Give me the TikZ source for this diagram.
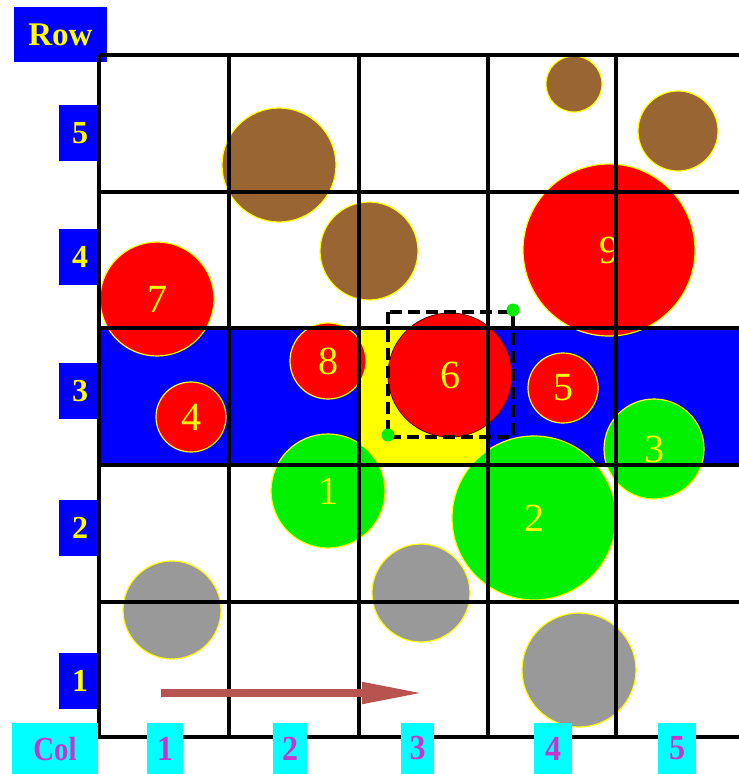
\documentclass[tikz,border=0pt]{standalone}
\usepackage{fontspec}
\setmainfont{Liberation Serif}
\usetikzlibrary{arrows.meta}
\definecolor{bbrown}{RGB}{153,102,51}
\definecolor{ggray}{RGB}{153,153,153}
\definecolor{ggreen}{RGB}{0,240,0}
\definecolor{arrowred}{RGB}{184,84,80}
\definecolor{mmag}{RGB}{204,51,204}
\definecolor{ddred}{RGB}{90,0,0}
\definecolor{ccyan}{RGB}{0,255,255}
\definecolor{bblue}{RGB}{0,0,255}
\definecolor{yyellow}{RGB}{255,255,0}
\definecolor{rred}{RGB}{255,0,0}
\tikzset{
  ball/.style={circle,inner sep=0pt,draw=yyellow,line width=1.2pt,text=yyellow,font=\fontsize{40}{40}\selectfont},
  rowlab/.style={fill=bblue,text=yyellow,inner sep=0pt,minimum width=42pt,minimum height=56pt,font=\bfseries\fontsize{32}{32}\selectfont},
  collab/.style={fill=ccyan,text=mmag,inner sep=0pt,minimum height=51pt,font=\bfseries\fontsize{32}{32}\selectfont},
  gridline/.style={line width=3.3pt,black},
}
\begin{document}
\begin{tikzpicture}[x=1pt,y=-1pt]
\useasboundingbox (0,0) rectangle (739,774);
\fill[white] (0,0) rectangle (739,774);
% band and highlighted cell
\fill[bblue] (99,328) rectangle (739,465);
\fill[yyellow] (359,328) rectangle (488,465);
% brown
\node[ball,fill=bbrown,minimum size=114pt] (b1) at (279,165) {};
\node[ball,fill=bbrown,minimum size=98pt] (b2) at (369,251) {};
\node[ball,fill=bbrown,minimum size=56pt] (b3) at (574,84) {};
\node[ball,fill=bbrown,minimum size=80pt] (b4) at (678,131) {};
% red
\node[ball,fill=rred,minimum size=172pt] (r9) at (609,250) {9};
\node[ball,fill=rred,minimum size=114pt] (r7) at (157,299) {7};
\node[ball,fill=rred,minimum size=76pt] (r8) at (328,361) {8};
\node[ball,fill=rred,minimum size=70pt] (r4) at (191,417) {4};
\node[ball,fill=rred,minimum size=70pt] (r5) at (563,388) {5};
% green
\node[ball,fill=ggreen,minimum size=100pt] (g3) at (654,449) {3};
\node[ball,fill=ggreen,minimum size=114pt] (g1) at (328,491) {1};
\node[ball,fill=ggreen,minimum size=164pt] (g2) at (534,518) {2};
% gray
\node[ball,fill=ggray,minimum size=98pt] (k1) at (172,610) {};
\node[ball,fill=ggray,minimum size=98pt] (k2) at (421,593) {};
\node[ball,fill=ggray,minimum size=114pt] (k3) at (579,670) {};
% red 6
\node[ball,fill=rred,draw=ddred,line width=0.8pt,minimum size=124pt] (r6) at (450,375) {6};
% labels (under grid)
\node[fill=bblue,text=yyellow,inner sep=0pt,minimum width=93pt,minimum height=55pt,font=\bfseries\fontsize{33}{33}\selectfont] (rowt) at (60.5,34.5) {Row};
\node[rowlab] (row5) at (80,133) {5};
\node[rowlab] (row4) at (80,257) {4};
\node[rowlab] (row3) at (80,391) {3};
\node[rowlab] (row2) at (80,528) {2};
\node[rowlab] (row1) at (80,681) {1};
% grid
\foreach \yy in {55,192,328,465,602,737} \draw[gridline] (99,\yy) -- (739,\yy);
\foreach \xx in {99,229,359,488,616} \draw[gridline] (\xx,55) -- (\xx,738.6);
% col labels
\node[collab,minimum width=86pt] (colt) at (55,748.5) {\scalebox{0.9}[1.05]{Col}};
\node[collab,minimum width=36pt] (col1) at (165,748.5) {\scalebox{1}[1.1]{1}};
\node[collab,minimum width=34pt] (col2) at (290,748.5) {\scalebox{1}[1.1]{2}};
\node[collab,minimum width=33pt] (col3) at (417.5,748.5) {\scalebox{1}[1.1]{3}};
\node[collab,minimum width=38pt] (col4) at (553,748.5) {\scalebox{1}[1.1]{4}};
\node[collab,minimum width=38pt] (col5) at (677,748.5) {\scalebox{1}[1.1]{5}};
% dashed selection
\draw[black,line width=3.2pt,dash pattern=on 12pt off 6pt] (388,312) rectangle (513,437);
\fill[ggreen] (513,310) circle (6.5pt);
\fill[ggreen] (388,435) circle (6.5pt);
% arrow
\coordinate (as) at (161,693);
\coordinate (ae) at (424,693);
\draw[arrowred,line width=8pt,-{Triangle[length=62pt,width=20pt]}] (as) -- (ae);
\end{tikzpicture}
\end{document}
